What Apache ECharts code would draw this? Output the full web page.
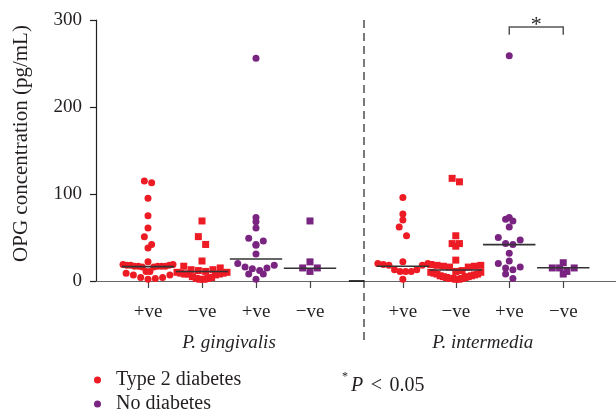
<!DOCTYPE html>
<html>
<head>
<meta charset="utf-8">
<script src="https://cdn.jsdelivr.net/npm/echarts@6/dist/echarts.min.js"></script>
<style>
  html, body { margin: 0; padding: 0; background: #fff; }
  #chart { width: 616px; height: 416px; }
</style>
</head>
<body>
<div id="chart"></div>
<script>
// ---------------- data ----------------
const groupLabels = ['+ve', '\u2212ve', '+ve', '\u2212ve', '+ve', '\u2212ve', '+ve', '\u2212ve'];
const groupPositions = [1, 2, 3, 4, 5.72, 6.70, 7.69, 8.69];
const bacteriaLabels = ['P. gingivalis', 'P. intermedia'];
const bacteriaPositions = [2.5, 7.2];
const dividerPosition = 5.0;

// P. gingivalis
const pgPosT2D = [115, 113, 95, 75, 61, 51, 42, 38, 22, 19, 18, 18, 17, 17, 17, 16, 16, 17, 17, 18, 19, 11, 11, 9, 7, 7, 4, 4, 3, 2];
const pgNegT2D = [69, 51, 42, 23, 17, 15, 13, 13, 12, 11, 10, 10, 9, 9, 8, 8, 8, 7, 5, 4, 3, 2, 2, 3];
const pgPosND  = [256, 73, 68, 61, 49, 46, 42, 41, 31, 20, 18, 16, 15, 14, 12, 8, 8, 2];
const pgNegND  = [69, 22, 15, 15, 11];
// P. intermedia
const piPosT2D = [96, 77, 70, 62, 52, 22, 20, 19, 18, 18, 13, 13, 11, 11, 11, 20, 2];
const piNegT2D = [118, 114, 52, 43, 43, 40, 24, 19, 18, 17, 16, 16, 17, 18, 12, 11, 10, 9, 8, 7, 6, 5, 4, 3, 3, 2, 2, 3, 4, 5, 6, 8, 10];
const piPosND  = [259, 73, 71, 69, 62, 50, 47, 43, 42, 32, 23, 20, 16, 15, 13, 8, 3];
const piNegND  = [21, 15, 15, 15, 11, 8];

const medians = [16.5, 11, 25.3, 14.6, 17, 12.6, 41.8, 15.3];

const sigPair = [6, 7];          // group indices compared
const sigLevels = [292, 283];    // bracket top, bracket ends

// ---------------- layout helpers ----------------
const X_MIN = 0.037, X_MAX = 9.667;
const GRID = { left: 96, right: 0, top: 20, bottom: 135 };
const W = 616, H = 416;
const PX_X = (W - GRID.left - GRID.right) / (X_MAX - X_MIN);
const PX_Y = (H - GRID.top - GRID.bottom) / 300;
const RED = '#ED1C24', PURPLE = '#7A2482';
const FONT = 'Liberation Serif';

// binned dot-plot layout (GraphPad style): points in the same vertical bin form a centred row
function swarm(values, center) {
  const BIN = 9, SP = 7.3, HALF = 25;
  const bins = {};
  values.forEach(v => {
    const b = Math.floor(v * PX_Y / BIN);
    (bins[b] = bins[b] || []).push(v);
  });
  // merge isolated neighbours that are closer than one symbol height into a single row
  const keys = Object.keys(bins).map(Number).sort((a, c) => a - c);
  keys.forEach(k => {
    const nxt = bins[k + 1];
    if (bins[k] && nxt && bins[k].length === 1 && nxt.length === 1 &&
        Math.abs(nxt[0] - bins[k][0]) * PX_Y < 4) {
      bins[k].push(nxt[0]); delete bins[k + 1];
    }
  });
  const out = [];
  Object.keys(bins).forEach(b => {
    const vs = bins[b].slice().sort((a, c) => a - c);
    const n = vs.length;
    const sp = n > 1 ? Math.min(SP, 2 * HALF / (n - 1)) : 0;
    const slots = [];
    for (let j = 0; j < n; j++) slots.push((j - (n - 1) / 2) * sp);
    slots.sort((a, c) => Math.abs(a) - Math.abs(c) || c - a);
    vs.forEach((v, k) => out.push([center + slots[k] / PX_X, v]));
  });
  return out;
}

const t2dCircles = swarm(pgPosT2D, groupPositions[0]).concat(swarm(piPosT2D, groupPositions[4]));
const t2dSquares = swarm(pgNegT2D, groupPositions[1]).concat(swarm(piNegT2D, groupPositions[5]));
const ndCircles  = swarm(pgPosND, groupPositions[2]).concat(swarm(piPosND, groupPositions[6]));
const ndSquares  = swarm(pgNegND, groupPositions[3]).concat(swarm(piNegND, groupPositions[7]));

const medianData = groupPositions.map((p, i) => [p, medians[i]]);

const chart = echarts.init(document.getElementById('chart'), null, { renderer: 'canvas', width: W, height: H });

const option = {
  animation: false,
  backgroundColor: '#fff',
  textStyle: { fontFamily: FONT },
  grid: GRID,
  legend: {
    orient: 'vertical',
    left: 94, top: 370, padding: 0,
    itemWidth: 7, itemHeight: 7, itemGap: 4,
    textStyle: { fontFamily: FONT, fontSize: 20, lineHeight: 20, color: '#231f20', padding: [0, 0, 0, 10] },
    data: [{ name: 'Type 2 diabetes', icon: 'circle' }, { name: 'No diabetes', icon: 'circle' }],
    selectedMode: false
  },
  xAxis: [{
    type: 'value', min: X_MIN, max: X_MAX,
    splitLine: { show: false },
    axisLine: { show: true, lineStyle: { color: '#666', width: 1.2 } },
    axisTick: { show: true, customValues: groupPositions, length: 7, lineStyle: { color: '#444', width: 1.2 } },
    axisLabel: {
      customValues: groupPositions, margin: 22,
      fontFamily: FONT, fontSize: 19, color: '#231f20',
      formatter: (v) => groupLabels[groupPositions.indexOf(v)] || ''
    }
  }, {
    type: 'value', min: X_MIN, max: X_MAX, position: 'bottom',
    splitLine: { show: false },
    axisLine: { show: false }, axisTick: { show: false },
    axisLabel: {
      customValues: bacteriaPositions, margin: 52,
      fontFamily: FONT, fontSize: 19, fontStyle: 'italic', color: '#231f20',
      formatter: (v) => bacteriaLabels[bacteriaPositions.indexOf(v)] || ''
    }
  }],
  yAxis: {
    type: 'value', min: 0, max: 300, interval: 100,
    name: 'OPG concentration (pg/mL)', nameLocation: 'middle', nameGap: 64,
    nameTextStyle: { fontFamily: FONT, fontSize: 21, color: '#231f20', padding: [0, 0, 0, 14] },
    splitLine: { show: false },
    axisLine: { show: true, lineStyle: { color: '#231f20', width: 1.2 } },
    axisTick: { show: true, length: 6, lineStyle: { color: '#231f20', width: 1.2 } },
    axisLabel: { margin: 14, fontFamily: FONT, fontSize: 19, color: '#231f20' }
  },
  series: [
    { name: 'Type 2 diabetes', type: 'scatter', symbol: 'circle', symbolSize: 7, itemStyle: { color: RED, opacity: 1 }, data: t2dCircles, z: 3 },
    { name: 'Type 2 diabetes', type: 'scatter', symbol: 'rect', symbolSize: 7, itemStyle: { color: RED, opacity: 1 }, data: t2dSquares, z: 3 },
    { name: 'No diabetes', type: 'scatter', symbol: 'circle', symbolSize: 7, itemStyle: { color: PURPLE, opacity: 1 }, data: ndCircles, z: 3 },
    { name: 'No diabetes', type: 'scatter', symbol: 'rect', symbolSize: 7, itemStyle: { color: PURPLE, opacity: 1 }, data: ndSquares, z: 3 },
    {
      name: 'medians', type: 'custom', z: 4, silent: true, clip: false,
      data: medianData,
      renderItem: (params, api) => {
        const x = api.value(0), y = api.value(1);
        const a = api.coord([x - 0.485, y]), b = api.coord([x + 0.485, y]);
        return { type: 'line', shape: { x1: a[0], y1: a[1], x2: b[0], y2: b[1] }, style: { stroke: '#333', lineWidth: 1.6 } };
      }
    },
    {
      name: 'divider', type: 'custom', z: 2, silent: true, clip: false,
      data: [[dividerPosition, 300]],
      renderItem: (params, api) => {
        const top = api.coord([api.value(0), 300]);
        const bot = api.coord([api.value(0), 0]);
        const seg = api.coord([api.value(0) - 0.28, 0]);
        return {
          type: 'group', children: [
            { type: 'line', shape: { x1: top[0], y1: top[1], x2: bot[0], y2: bot[1] + 62 }, style: { stroke: '#333', lineWidth: 1.3, lineDash: [8, 5] } },
            { type: 'line', shape: { x1: seg[0], y1: seg[1], x2: bot[0], y2: bot[1] }, style: { stroke: '#222', lineWidth: 1.8 } }
          ]
        };
      }
    },
    {
      name: 'significance', type: 'custom', z: 4, silent: true, clip: false,
      data: [[groupPositions[sigPair[0]], groupPositions[sigPair[1]], sigLevels[0], sigLevels[1]]],
      renderItem: (params, api) => {
        const x1 = api.value(0), x2 = api.value(1), yt = api.value(2), ye = api.value(3);
        const p1 = api.coord([x1, ye]), p2 = api.coord([x1, yt]), p3 = api.coord([x2, yt]), p4 = api.coord([x2, ye]);
        return {
          type: 'group', children: [
            { type: 'polyline', shape: { points: [p1, p2, p3, p4] }, style: { stroke: '#555', lineWidth: 1.5, fill: null } },
            { type: 'text', x: (p2[0] + p3[0]) / 2, y: p2[1] - 2, style: { text: '*', fontFamily: FONT, fontSize: 22, fill: '#231f20', align: 'center', verticalAlign: 'middle' } }
          ]
        };
      }
    }
  ],
  graphic: [{
    type: 'text', left: 342, top: 371,
    style: {
      text: '{s|*}{p|P}{g| }<{g| }0.05',
      fontFamily: FONT, fontSize: 20, fill: '#231f20',
      rich: {
        s: { fontSize: 12, verticalAlign: 'top', padding: [0, 3, 8, 0], fontFamily: FONT },
        p: { fontStyle: 'italic', fontSize: 20, fontFamily: FONT },
        g: { fontSize: 30, fontFamily: FONT }
      }
    }
  }]
};
chart.setOption(option);
</script>
</body>
</html>
